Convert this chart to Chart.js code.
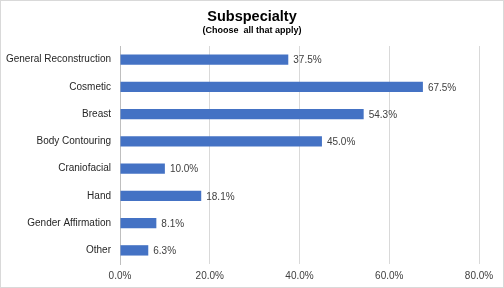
<!DOCTYPE html>
<html>
<head>
<meta charset="utf-8">
<script src="https://cdn.jsdelivr.net/npm/chart.js@4/dist/chart.umd.min.js"></script>
<style>
    body { margin: 0; background: #fff; }
    canvas { display: block; }
</style>
</head>
<body>
<canvas id="subChart" width="504" height="288"></canvas>
<script>
const categories = ['General Reconstruction', 'Cosmetic', 'Breast', 'Body Contouring', 'Craniofacial', 'Hand', 'Gender Affirmation', 'Other'];
const percentValues = [37.5, 67.5, 54.3, 45.0, 10.0, 18.1, 8.1, 6.3];
const xTicks = [0, 20, 40, 60, 80];
const titleText = 'Subspecialty';
const subtitleText = '(Choose  all that apply)';

const fontFamily = '"Liberation Sans", Arial, sans-serif';

//* value labels at the end of each bar
const barLabels = {
    id: 'barLabels',
    afterDatasetsDraw(chart) {
        const ctx = chart.ctx;
        const meta = chart.getDatasetMeta(0);
        ctx.save();
        ctx.font = '10px ' + fontFamily;
        ctx.fillStyle = '#404040';
        ctx.textAlign = 'left';
        ctx.textBaseline = 'middle';
        meta.data.forEach((bar, i) => {
            ctx.fillText(percentValues[i].toFixed(1) + '%', bar.x + 5, bar.y + 1);
        });
        ctx.restore();
    }
};

// titles centred on the whole canvas + light frame
const frame = {
    id: 'frame',
    afterDraw(chart) {
        const ctx = chart.ctx;
        ctx.save();
        ctx.fillStyle = '#000';
        ctx.textAlign = 'center';
        ctx.textBaseline = 'middle';
        ctx.font = 'bold 14.5px ' + fontFamily;
        ctx.fillText(titleText, chart.width / 2, 17);
        ctx.font = 'bold 9px ' + fontFamily;
        ctx.fillText(subtitleText, chart.width / 2, 30.5);

        ctx.strokeStyle = '#d9d9d9';
        ctx.lineWidth = 1;
        ctx.strokeRect(0.5, 0.5, chart.width - 1, chart.height - 1);
        ctx.restore();
    }
};

const data = {
    labels: categories,
    datasets: [{
        data: percentValues,
        backgroundColor: '#4472C4',
        barPercentage: 0.38,
        categoryPercentage: 1.0
    }]
};

const config = {
    type: 'bar',
    data: data,
    options: {
        indexAxis: 'y',
        responsive: false,
        animation: false,
        layout: {
            padding: { left: 0, right: 25, top: 46, bottom: 0 }
        },
        scales: {
            x: {
                min: 0,
                max: 80,
                afterBuildTicks: (scale) => {
                    scale.ticks = xTicks.map(v => ({ value: v }));
                },
                afterFit: (scale) => { scale.height = 24; },
                grid: { color: '#d9d9d9', drawTicks: false },
                border: { display: false },
                ticks: {
                    padding: 6,
                    color: '#404040',
                    font: { size: 10, family: fontFamily },
                    callback: (v) => v.toFixed(1) + '%'
                }
            },
            y: {
                afterFit: (scale) => { scale.width = 120; },
                grid: { display: false, drawTicks: false },
                border: { display: true, color: '#bfbfbf' },
                ticks: {
                    padding: 9,
                    color: '#262626',
                    font: { size: 10, family: fontFamily }
                }
            }
        },
        plugins: {
            legend: { display: false },
            tooltip: { enabled: false },
            title: { display: false },
            subtitle: { display: false }
        }
    },
    plugins: [barLabels, frame]
};

var subChart = new Chart(document.getElementById('subChart'), config);
</script>
</body>
</html>
